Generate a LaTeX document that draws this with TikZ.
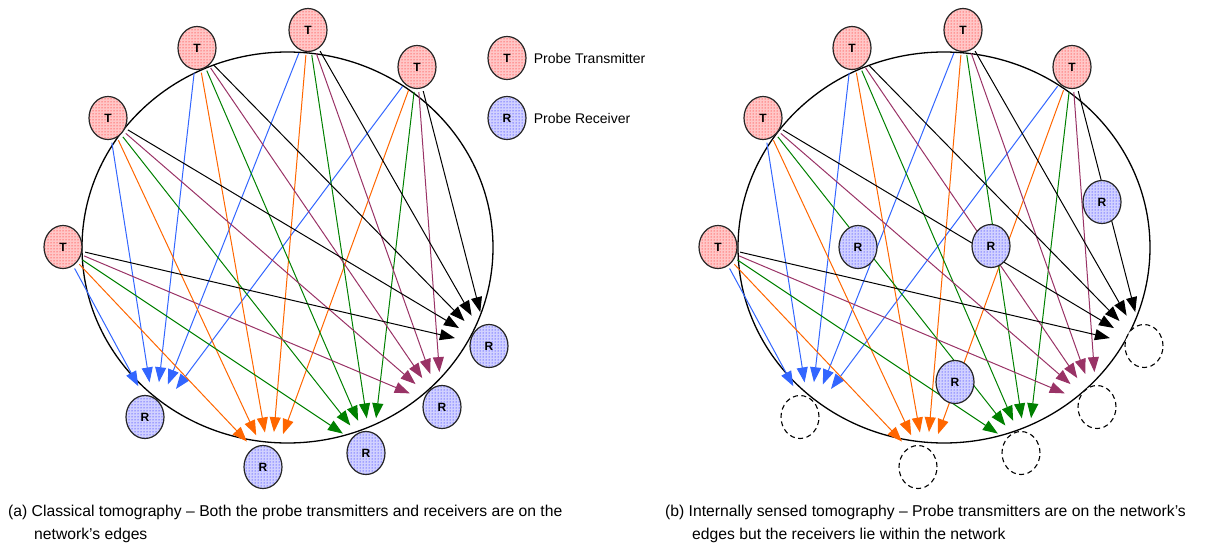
\documentclass[tikz,border=0pt]{standalone}
\usepackage{fontspec}
\setmainfont{Liberation Sans}
\usepackage{tikz}
\usetikzlibrary{shapes.geometric}
\usetikzlibrary{patterns}
\usetikzlibrary{arrows.meta}
\usetikzlibrary{positioning}

\definecolor{pblue}{RGB}{51,102,255}
\definecolor{porange}{RGB}{255,102,0}
\definecolor{pgreen}{RGB}{0,128,0}
\definecolor{ppurple}{RGB}{153,51,102}

\begin{document}
\begin{tikzpicture}[x=1pt, y=-1pt]
\tikzset{ring/.style = {draw, line width=1.3pt}}
\tikzset{station/.style = {shape=ellipse, draw=black!85, line width=1.2pt, minimum width=38pt, minimum height=43pt, inner sep=0pt, pattern=dots, font=\fontsize{12}{12}\selectfont\bfseries}}
\tikzset{tx/.style = {station, preaction={fill=red!22}, pattern color=red}}
\tikzset{rx/.style = {station, preaction={fill=blue!18}, pattern color=blue}}
\tikzset{hole/.style = {shape=ellipse, draw, line width=1.1pt, dash pattern=on 5pt off 3.5pt, fill=white, minimum width=38pt, minimum height=43pt}}
\tikzset{probe/.style = {line width=1pt, shorten <=3pt, shorten >=35pt, arrows={-Triangle[length=15pt, width=11pt]}}}
\tikzset{key/.style = {font=\fontsize{14}{16}\selectfont, inner sep=0pt}}
\tikzset{captext/.style = {font=\fontsize{15.7}{18}\selectfont, inner sep=0pt, anchor=base west}}
\useasboundingbox (0,0) rectangle (1205,546);
% (a) classical tomography
\draw[ring] (287.5,247.5) ellipse [x radius=205.5, y radius=195.5];
\node[tx](ta1) at (197, 48) {T};
\node[tx](ta2) at (308, 30) {T};
\node[tx](ta3) at (417, 67) {T};
\node[tx](ta4) at (108, 118) {T};
\node[tx](ta5) at (63, 247) {T};
\node[rx](ra1) at (145, 417) {R};
\node[rx](ra2) at (263, 467) {R};
\node[rx](ra3) at (366, 453) {R};
\node[rx](ra4) at (442, 407) {R};
\node[rx](ra5) at (489, 346) {R};
% (b) internally sensed tomography
\draw[ring] (944,247.5) ellipse [x radius=206, y radius=195.5];
\node[tx](tb1) at (852, 48) {T};
\node[tx](tb2) at (963, 30) {T};
\node[tx](tb3) at (1072, 67) {T};
\node[tx](tb4) at (763, 118) {T};
\node[tx](tb5) at (718, 247) {T};
\node[hole](rb1) at (800, 417) {};
\node[hole](rb2) at (918, 467) {};
\node[hole](rb3) at (1021, 453) {};
\node[hole](rb4) at (1097, 407) {};
\node[hole](rb5) at (1144, 346) {};
% every transmitter probes every receiver
\foreach \p in {a,b}
  \foreach \r/\c/\dx in {1/pblue/10, 2/porange/8, 3/pgreen/6, 4/ppurple/0, 5/black/0}
    \foreach \t in {1,...,5}
      \draw[probe, \c] (t\p\t) -- ([xshift=\dx]r\p\r.center);
% receivers inside the network
\node[rx](ib1) at (858, 247) {R};
\node[rx](ib2) at (991, 246) {R};
\node[rx](ib3) at (1102, 202) {R};
\node[rx](ib4) at (955, 382) {R};
% legend
\node[tx](keyt) at (507, 58) {T};
\node[rx](keyr) at (507, 118) {R};
\node[key, right=7pt of keyt] (keytxt) {Probe Transmitter};
\node[key, right=7pt of keyr] (keyrxt) {Probe Receiver};
% captions
\node[captext](capa1) at (8, 516) {(a) Classical tomography -- Both the probe transmitters and receivers are on the};
\node[captext](capa2) at (34, 539) {network's edges};
\node[captext](capb1) at (665, 516) {(b) Internally sensed tomography -- Probe transmitters are on the network's};
\node[captext](capb2) at (692, 539) {edges but the receivers lie within the network};
\end{tikzpicture}
\end{document}
